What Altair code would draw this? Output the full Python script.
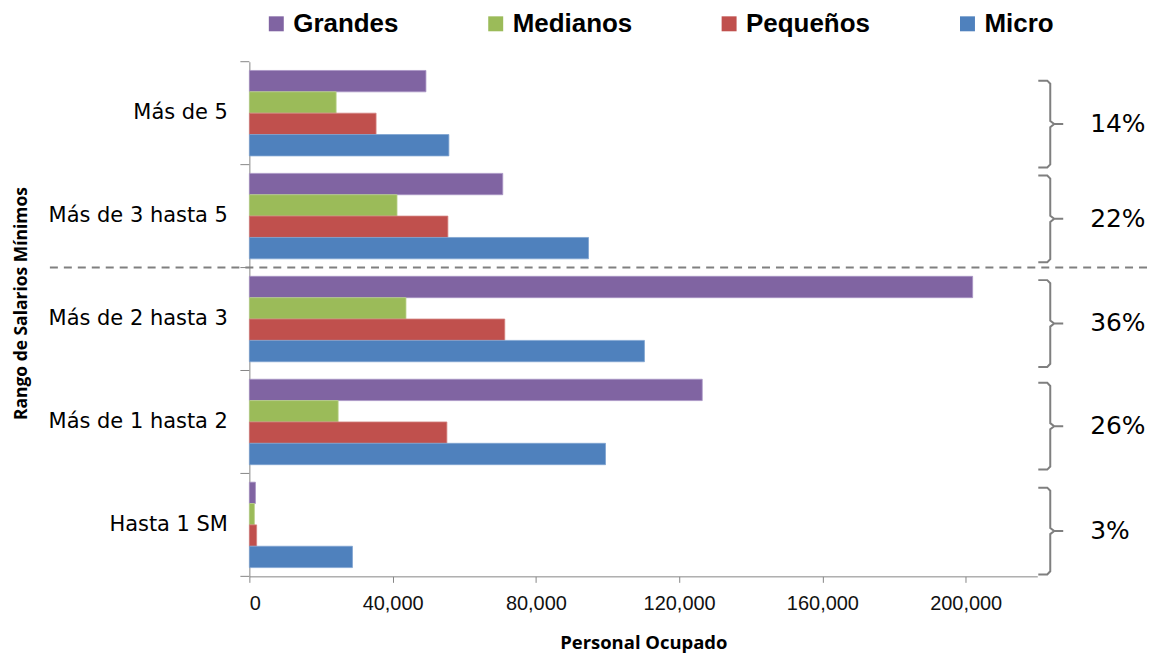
import altair as alt
import pandas as pd

# ---- data ----
categories = ["Más de 5", "Más de 3 hasta 5", "Más de 2 hasta 3", "Más de 1 hasta 2", "Hasta 1 SM"]
series = ["Grandes", "Medianos", "Pequeños", "Micro"]
grandes = [49300, 70750, 201950, 126450, 1700]
medianos = [24230, 41230, 43730, 24790, 1400]
pequenos = [35380, 55430, 71310, 55150, 2030]
micro = [55710, 94700, 110310, 99440, 28780]
shares = ["14%", "22%", "36%", "26%", "3%"]
x_ticks = [0, 40000, 80000, 120000, 160000, 200000]
x_max = 220000

colors = ["#8064A2", "#9BBB59", "#C0504D", "#4F81BD"]
edge_colors = ["#a894c4", "#b9d08a", "#d3827f", "#7fa3d1"]

# brace extents per category, in category-step units (0 = top of plot)
brace_top = [0.184, 1.105, 2.122, 3.120, 4.138]
brace_bottom = [1.027, 1.948, 2.965, 3.963, 4.981]
divider_at = [2]          # dashed separator between 2nd and 3rd group
group_bounds = [0, 1, 2, 3, 4, 5]

W, H = 790, 516

rows = []
for vals, s in zip([grandes, medianos, pequenos, micro], series):
    for c, v in zip(categories, vals):
        rows.append({"rango": c, "tamano": s, "valor": v})
df = pd.DataFrame(rows)

# brace outline (pixel x relative to plot left, y in category units)
brace_rows = []
for i, (t, b) in enumerate(zip(brace_top, brace_bottom)):
    m = (t + b) / 2
    pts = [(791, t), (800, t), (803, t + 0.03), (803, m - 0.03), (807, m),
           (816, m), (807, m), (803, m + 0.03), (803, b - 0.03), (800, b), (791, b)]
    for k, (px, u) in enumerate(pts):
        brace_rows.append({"brace": i, "k": k, "px": px, "u": u})
braces_df = pd.DataFrame(brace_rows)
text_df = pd.DataFrame({"share": shares,
                        "mid": [(t + b) / 2 for t, b in zip(brace_top, brace_bottom)]})
div_df = pd.DataFrame({"u": divider_at})
tick_df = pd.DataFrame({"u": group_bounds})

GRAY = "#868686"

bars = alt.Chart(df).mark_bar(strokeWidth=1, strokeOpacity=0.8).encode(
    x=alt.X("valor:Q",
            scale=alt.Scale(domain=[0, x_max], nice=False, zero=True),
            axis=alt.Axis(values=x_ticks, format=",.0f", title="Personal Ocupado",
                          grid=False, tickSize=6, tickColor=GRAY, domainColor=GRAY,
                          labelFont="Liberation Sans", labelFontSize=20, labelColor="#111",
                          labelPadding=11,
                          titleFont="Open Sans", titleFontSize=18.5, titleFontWeight="bold",
                          titleColor="#000", titlePadding=20)),
    y=alt.Y("rango:N", sort=categories,
            scale=alt.Scale(paddingInner=0.17, paddingOuter=0.085),
            axis=alt.Axis(title="Rango de Salarios Mínimos", ticks=False, tickSize=0,
                          domainColor=GRAY, labelFont="DejaVu Sans", labelFontSize=21,
                          labelColor="#000", labelPadding=22, labelLimit=300,
                          titleFont="Open Sans", titleFontSize=17.5, titleFontWeight="bold",
                          titleColor="#000", titleX=-219, titleY=242)),
    yOffset=alt.YOffset("tamano:N", sort=series),
    color=alt.Color("tamano:N", scale=alt.Scale(domain=series, range=colors),
                    legend=alt.Legend(orient="none", legendX=14, legendY=-51,
                                      direction="horizontal", title=None,
                                      symbolType="square", symbolSize=225,
                                      symbolStrokeWidth=0, labelFont="Liberation Sans",
                                      labelFontSize=26, labelFontWeight="bold",
                                      labelColor="#000", labelOffset=4,
                                      columnPadding=84, padding=0, labelLimit=300)),
    stroke=alt.Stroke("tamano:N", scale=alt.Scale(domain=series, range=edge_colors),
                      legend=None),
)

px_scale = alt.Scale(domain=[0, W], nice=False, zero=False)
u_scale = alt.Scale(domain=[0, 5], nice=False, zero=False, reverse=True)

brace_lines = alt.Chart(braces_df).mark_line(color="#7f7f7f", strokeWidth=2).encode(
    x=alt.X("px:Q", scale=px_scale, axis=None),
    y=alt.Y("u:Q", scale=u_scale, axis=None),
    detail="brace:N",
    order="k:Q",
)

share_text = alt.Chart(text_df).mark_text(
    align="left", baseline="middle", font="DejaVu Sans", fontSize=25, color="#000"
).encode(
    x=alt.value(843),
    y=alt.Y("mid:Q", scale=u_scale, axis=None),
    text="share:N",
)

divider = alt.Chart(div_df).mark_rule(color="#808080", strokeWidth=2, strokeDash=[8, 6]).encode(
    y=alt.Y("u:Q", scale=u_scale, axis=None),
    x=alt.value(-200),
    x2=alt.value(910),
)

yticks = alt.Chart(tick_df).mark_rule(color=GRAY, strokeWidth=1).encode(
    y=alt.Y("u:Q", scale=u_scale, axis=None),
    x=alt.value(-9),
    x2=alt.value(0),
)

annot = alt.layer(brace_lines, share_text, divider, yticks)

chart = alt.layer(bars, annot).resolve_scale(
    x="independent", y="independent"
).properties(
    width=W, height=H,
    autosize=alt.AutoSizeParams(type="none"),
    padding={"left": 242, "top": 53, "right": 110, "bottom": 79},
).configure_view(stroke=None)

chart.save("out.html", embed_options={"renderer": "svg", "actions": False})
